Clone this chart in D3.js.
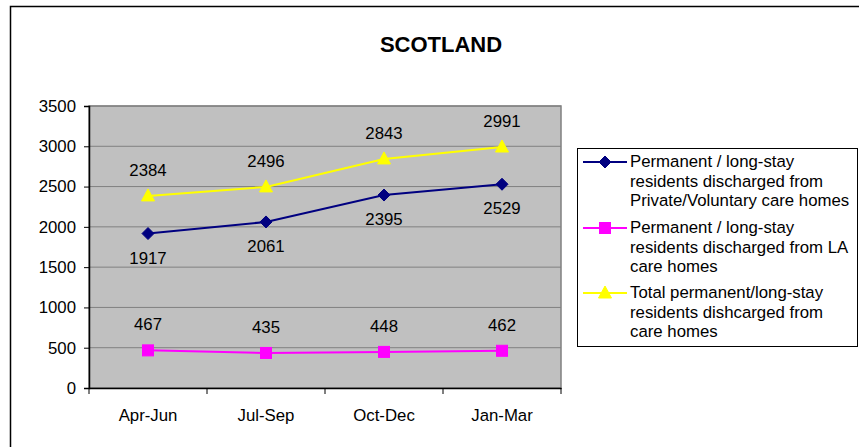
<!DOCTYPE html>
<html>
<head>
<meta charset="utf-8">
<script src="https://cdn.jsdelivr.net/npm/d3@7"></script>
<style>
  html, body { margin: 0; padding: 0; background: #fff; }
  svg { display: block; font-family: "Liberation Sans", Arial, sans-serif; }
</style>
</head>
<body>
<svg id="chart" width="859" height="447"></svg>
<script>
const categories = ["Apr-Jun", "Jul-Sep", "Oct-Dec", "Jan-Mar"];
const privateVoluntary = [1917, 2061, 2395, 2529];
const laHomes = [467, 435, 448, 462];
const totalDischarged = [2384, 2496, 2843, 2991];
const yTicks = [0, 500, 1000, 1500, 2000, 2500, 3000, 3500];
const seriesNames = [
  ["Permanent / long-stay", "residents discharged from", "Private/Voluntary care homes"],
  ["Permanent / long-stay", "residents discharged from LA", "care homes"],
  ["Total permanent/long-stay", "residents dishcarged from", "care homes"]
];

const series = [
  { values: privateVoluntary, color: "#000080", marker: "diamond", labelPos: "below", names: seriesNames[0] },
  { values: laHomes, color: "#FF00FF", marker: "square", labelPos: "above", names: seriesNames[1] },
  { values: totalDischarged, color: "#FFFF00", marker: "triangle", labelPos: "above", names: seriesNames[2] }
];

const FS = 16.8;
const svg = d3.select("#chart");
const plot = { left: 89, top: 106, right: 561, bottom: 388 };

// outer frame
svg.append("rect").attr("x", 10.5).attr("y", 6.5).attr("width", 900).attr("height", 500)
  .attr("fill", "#fff").attr("stroke", "#000").attr("stroke-width", 1.5);

// title
svg.append("text").attr("x", 441).attr("y", 52).attr("text-anchor", "middle")
  .attr("font-size", 22).attr("font-weight", "bold").text("SCOTLAND");

const x = d3.scaleBand().domain(categories).range([plot.left, plot.right]);
const y = d3.scaleLinear().domain([0, 3500]).range([plot.bottom, plot.top]);

// plot background
svg.append("rect").attr("x", plot.left).attr("y", plot.top)
  .attr("width", plot.right - plot.left).attr("height", plot.bottom - plot.top)
  .attr("fill", "#C0C0C0").attr("stroke", "#808080").attr("stroke-width", 1.5);

// gridlines
svg.append("g").selectAll("line").data(yTicks.filter(d => d > 0)).join("line")
  .attr("x1", plot.left).attr("x2", plot.right)
  .attr("y1", d => y(d)).attr("y2", d => y(d))
  .attr("stroke", "#808080").attr("stroke-width", 1);

// y axis
const yAxis = svg.append("g").attr("transform", `translate(${plot.left},0)`)
  .call(d3.axisLeft(y).tickValues(yTicks).tickSize(5).tickPadding(8).tickFormat(d3.format("d")));
yAxis.select(".domain").attr("stroke", "#000").attr("stroke-width", 1.5);
yAxis.selectAll(".tick line").attr("stroke", "#000");
yAxis.selectAll("text").attr("font-size", FS).attr("fill", "#000")
  .attr("font-family", "Liberation Sans, Arial, sans-serif");

// x axis
const xAxis = svg.append("g").attr("transform", `translate(0,${plot.bottom})`)
  .call(d3.axisBottom(x).tickSize(0).tickPadding(21));
xAxis.select(".domain").attr("stroke", "#000").attr("stroke-width", 1.5);
xAxis.selectAll("text").attr("font-size", FS).attr("fill", "#000")
  .attr("font-family", "Liberation Sans, Arial, sans-serif");
// category boundary ticks
const bounds = categories.map(c => x(c)).concat([x(categories[categories.length - 1]) + x.bandwidth()]);
svg.append("g").selectAll("line").data(bounds).join("line")
  .attr("x1", d => d).attr("x2", d => d)
  .attr("y1", plot.bottom).attr("y2", plot.bottom + 6)
  .attr("stroke", "#000").attr("stroke-width", 1);

const cx = c => x(c) + x.bandwidth() / 2;

function drawMarker(g, type, color, px, py) {
  if (type === "diamond") {
    g.append("path").attr("d", `M${px},${py - 6}L${px + 6},${py}L${px},${py + 6}L${px - 6},${py}Z`)
      .attr("fill", color).attr("stroke", color);
  } else if (type === "square") {
    g.append("rect").attr("x", px - 5.5).attr("y", py - 5.5).attr("width", 11).attr("height", 11)
      .attr("fill", color).attr("stroke", color);
  } else {
    g.append("path").attr("d", `M${px},${py - 7}L${px + 6.5},${py + 5}L${px - 6.5},${py + 5}Z`)
      .attr("fill", color).attr("stroke", color);
  }
}

const line = d3.line().x((d, i) => cx(categories[i])).y(d => y(d));

series.forEach(s => {
  const g = svg.append("g");
  g.append("path").datum(s.values).attr("d", line)
    .attr("fill", "none").attr("stroke", s.color).attr("stroke-width", 2);
  s.values.forEach((v, i) => drawMarker(g, s.marker, s.color, cx(categories[i]), y(v)));
  g.selectAll("text.lbl").data(s.values).join("text").attr("class", "lbl")
    .attr("x", (d, i) => cx(categories[i]))
    .attr("y", d => s.labelPos === "above" ? y(d) - 20 : y(d) + 30)
    .attr("text-anchor", "middle").attr("font-size", FS).attr("fill", "#000")
    .text(d => d);
});

// legend
const lg = svg.append("g");
lg.append("rect").attr("x", 577.5).attr("y", 148.5).attr("width", 280).attr("height", 198)
  .attr("fill", "#fff").attr("stroke", "#000").attr("stroke-width", 1);
const legendTops = [167, 233, 298];
series.forEach((s, k) => {
  const base = legendTops[k];
  const my = base - 5;
  lg.append("line").attr("x1", 583).attr("x2", 627).attr("y1", my).attr("y2", my)
    .attr("stroke", s.color).attr("stroke-width", 2);
  drawMarker(lg, s.marker, s.color, 605, my);
  s.names.forEach((t, j) => {
    lg.append("text").attr("x", 630).attr("y", base + j * 19.7)
      .attr("font-size", FS).attr("fill", "#000").text(t);
  });
});
</script>
</body>
</html>
